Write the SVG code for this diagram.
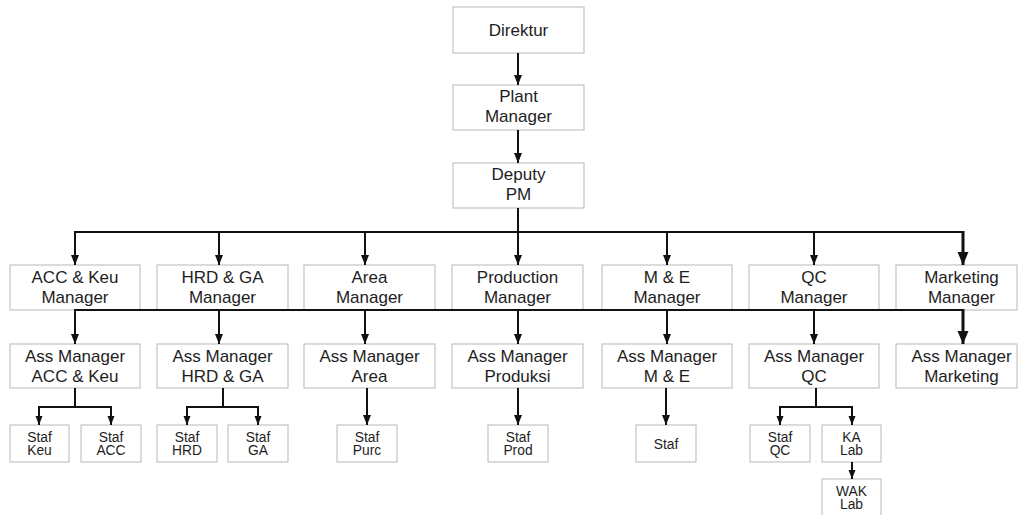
<svg xmlns="http://www.w3.org/2000/svg" width="1019" height="515" viewBox="0 0 1019 515">
<style>
.box{fill:#fff;stroke:#c4c4c4;stroke-width:1.2}
.t{font-family:"Liberation Sans",Arial,sans-serif;font-size:17px;fill:#1e1e1e;text-anchor:middle}
.s{font-family:"Liberation Sans",Arial,sans-serif;font-size:13.8px;fill:#1e1e1e;text-anchor:middle}
.ln{fill:none;stroke:#111;stroke-width:2}
.lnb{fill:none;stroke:#111;stroke-width:3}
.a{marker-end:url(#ah)}
.as{marker-end:url(#ahs)}
.ab{marker-end:url(#ahb)}
</style>
<defs>
<marker id="ah" markerWidth="10" markerHeight="10" refX="10" refY="5" orient="auto" markerUnits="userSpaceOnUse"><path d="M0,1 L10,5 L0,9 z" fill="#111"/></marker>
<marker id="ahs" markerWidth="9" markerHeight="8" refX="9" refY="4" orient="auto" markerUnits="userSpaceOnUse"><path d="M0,0.5 L9,4 L0,7.5 z" fill="#111"/></marker>
<marker id="ahb" markerWidth="13" markerHeight="12" refX="13" refY="6" orient="auto" markerUnits="userSpaceOnUse"><path d="M0,0.5 L13,6 L0,11.5 z" fill="#111"/></marker>
</defs>
<rect width="1019" height="515" fill="#fff"/>
<g id="direktur"><rect class="box" x="453" y="7" width="131" height="46"/><text class="t" x="518.5" y="36">Direktur</text></g>
<g id="plant-manager"><rect class="box" x="453" y="85" width="131" height="45"/><text class="t" x="518.5" y="102">Plant</text><text class="t" x="518.5" y="122">Manager</text></g>
<g id="deputy-pm"><rect class="box" x="453" y="163" width="131" height="45"/><text class="t" x="518.5" y="180">Deputy</text><text class="t" x="518.5" y="200">PM</text></g>
<g id="acc-keu-manager"><rect class="box" x="10" y="265" width="130" height="45"/><text class="t" x="75" y="283">ACC &amp; Keu</text><text class="t" x="75" y="302.5">Manager</text></g>
<g id="hrd-ga-manager"><rect class="box" x="157" y="265" width="131" height="45"/><text class="t" x="222.5" y="283">HRD &amp; GA</text><text class="t" x="222.5" y="302.5">Manager</text></g>
<g id="area-manager"><rect class="box" x="304" y="265" width="131" height="45"/><text class="t" x="369.5" y="283">Area</text><text class="t" x="369.5" y="302.5">Manager</text></g>
<g id="production-manager"><rect class="box" x="452" y="265" width="131" height="45"/><text class="t" x="517.5" y="283">Production</text><text class="t" x="517.5" y="302.5">Manager</text></g>
<g id="me-manager"><rect class="box" x="602" y="265" width="130" height="45"/><text class="t" x="667" y="283">M &amp; E</text><text class="t" x="667" y="302.5">Manager</text></g>
<g id="qc-manager"><rect class="box" x="749" y="265" width="130" height="45"/><text class="t" x="814" y="283">QC</text><text class="t" x="814" y="302.5">Manager</text></g>
<g id="marketing-manager"><rect class="box" x="896" y="265" width="121" height="45"/><text class="t" x="961.5" y="283">Marketing</text><text class="t" x="961.5" y="302.5">Manager</text></g>
<g id="ass-acc-keu"><rect class="box" x="10" y="344" width="130" height="44"/><text class="t" x="75" y="362">Ass Manager</text><text class="t" x="75" y="381.5">ACC &amp; Keu</text></g>
<g id="ass-hrd-ga"><rect class="box" x="157" y="344" width="131" height="44"/><text class="t" x="222.5" y="362">Ass Manager</text><text class="t" x="222.5" y="381.5">HRD &amp; GA</text></g>
<g id="ass-area"><rect class="box" x="304" y="344" width="131" height="44"/><text class="t" x="369.5" y="362">Ass Manager</text><text class="t" x="369.5" y="381.5">Area</text></g>
<g id="ass-produksi"><rect class="box" x="452" y="344" width="131" height="44"/><text class="t" x="517.5" y="362">Ass Manager</text><text class="t" x="517.5" y="381.5">Produksi</text></g>
<g id="ass-me"><rect class="box" x="602" y="344" width="130" height="44"/><text class="t" x="667" y="362">Ass Manager</text><text class="t" x="667" y="381.5">M &amp; E</text></g>
<g id="ass-qc"><rect class="box" x="749" y="344" width="130" height="44"/><text class="t" x="814" y="362">Ass Manager</text><text class="t" x="814" y="381.5">QC</text></g>
<g id="ass-marketing"><rect class="box" x="896" y="344" width="121" height="44"/><text class="t" x="961.5" y="362">Ass Manager</text><text class="t" x="961.5" y="381.5">Marketing</text></g>
<g id="staf-keu"><rect class="box" x="10" y="425" width="59" height="37"/><text class="s" x="39.5" y="442">Staf</text><text class="s" x="39.5" y="455">Keu</text></g>
<g id="staf-acc"><rect class="box" x="81" y="425" width="60" height="37"/><text class="s" x="111" y="442">Staf</text><text class="s" x="111" y="455">ACC</text></g>
<g id="staf-hrd"><rect class="box" x="157" y="425" width="60" height="37"/><text class="s" x="187" y="442">Staf</text><text class="s" x="187" y="455">HRD</text></g>
<g id="staf-ga"><rect class="box" x="228" y="425" width="60" height="37"/><text class="s" x="258" y="442">Staf</text><text class="s" x="258" y="455">GA</text></g>
<g id="staf-purc"><rect class="box" x="337" y="425" width="60" height="37"/><text class="s" x="367" y="442">Staf</text><text class="s" x="367" y="455">Purc</text></g>
<g id="staf-prod"><rect class="box" x="488" y="425" width="60" height="37"/><text class="s" x="518" y="442">Staf</text><text class="s" x="518" y="455">Prod</text></g>
<g id="staf-me"><rect class="box" x="636" y="425" width="60" height="37"/><text class="s" x="666" y="448.5">Staf</text></g>
<g id="staf-qc"><rect class="box" x="750" y="425" width="60" height="37"/><text class="s" x="780" y="442">Staf</text><text class="s" x="780" y="455">QC</text></g>
<g id="ka-lab"><rect class="box" x="822" y="425" width="59" height="37"/><text class="s" x="851.5" y="442">KA</text><text class="s" x="851.5" y="455">Lab</text></g>
<g id="wak-lab"><rect class="box" x="822" y="479" width="59" height="40"/><text class="s" x="851.5" y="496">WAK</text><text class="s" x="851.5" y="509">Lab</text></g>
<g id="connectors">
<line class="ln a" x1="518" y1="53" x2="518" y2="85"/>
<line class="ln a" x1="518" y1="130" x2="518" y2="163"/>
<line class="ln a" x1="518" y1="208" x2="518" y2="265"/>
<line class="ln" x1="74" y1="232" x2="963" y2="232"/>
<line class="ln a" x1="75" y1="232" x2="75" y2="265"/>
<line class="ln a" x1="219" y1="232" x2="219" y2="265"/>
<line class="ln a" x1="365" y1="232" x2="365" y2="265"/>
<line class="ln a" x1="667" y1="232" x2="667" y2="265"/>
<line class="ln a" x1="814" y1="232" x2="814" y2="265"/>
<line class="lnb ab" x1="963" y1="231" x2="963" y2="265"/>
<line class="ln" x1="74" y1="310" x2="963" y2="310"/>
<line class="ln a" x1="75" y1="310" x2="75" y2="344"/>
<line class="ln a" x1="219" y1="310" x2="219" y2="344"/>
<line class="ln a" x1="365" y1="310" x2="365" y2="344"/>
<line class="ln a" x1="518" y1="310" x2="518" y2="344"/>
<line class="ln a" x1="667" y1="310" x2="667" y2="344"/>
<line class="ln a" x1="814" y1="310" x2="814" y2="344"/>
<line class="lnb ab" x1="963" y1="309" x2="963" y2="344"/>
<polyline class="ln" points="75,388 75,407"/>
<polyline class="ln as" points="75,407 39,407 39,425"/>
<polyline class="ln as" points="75,407 111,407 111,425"/>
<polyline class="ln" points="223,388 223,407"/>
<polyline class="ln as" points="223,407 187,407 187,425"/>
<polyline class="ln as" points="223,407 258,407 258,425"/>
<line class="ln a" x1="367" y1="388" x2="367" y2="425"/>
<line class="ln a" x1="518" y1="388" x2="518" y2="425"/>
<line class="ln a" x1="666" y1="388" x2="666" y2="425"/>
<polyline class="ln" points="816,388 816,407"/>
<polyline class="ln as" points="816,407 780,407 780,425"/>
<polyline class="ln as" points="816,407 852,407 852,425"/>
<line class="ln as" x1="852" y1="462" x2="852" y2="479"/>
</g>
</svg>
